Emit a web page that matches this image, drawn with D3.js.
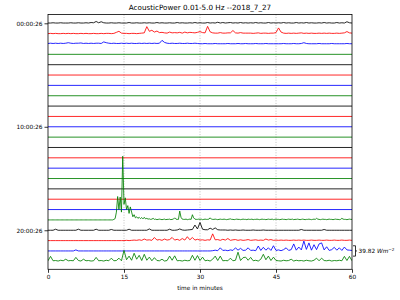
<!DOCTYPE html>
<html><head><meta charset="utf-8">
<script src="https://cdn.jsdelivr.net/npm/d3@7/dist/d3.min.js"></script>
<style>body{margin:0;background:#fff} svg{display:block} text{font-family:"DejaVu Sans",sans-serif}</style>
</head><body><svg id="c" width="400" height="300"></svg>
<script>
// ---------------- data ----------------
const title = "AcousticPower 0.01-5.0 Hz --2018_7_27";
const xLabel = "time in minutes";
const rowColors = ["#000000", "#ff0000", "#0000ff", "#008000"];
const rowTickRows = [0, 10, 20];
const rowTickLabels = ["00:00:26", "10:00:26", "20:00:26"];
const xTicks = [0, 15, 30, 45, 60];
const rowUnit = 39.82;           // W m^-2 per row spacing
const nRows = 24;

// values in W m^-2, step 0.5 min
const row00 = [1,1,2,1,1,2,1,1,1,2, 1,1,2,1,1,2,1,3,2,7, 2,6,2,1,1,2,1,1,2,1, 1,1,3,1,1,2,1,1,2,1,
  2,1,1,3,1,2,1,1,2,1, 1,3,1,2,1,1,2,1,3,1, 2,1,1,3,1,2,1,4,1,3, 1,2,3,1,2,1,3,1,2,1,
  2,1,3,1,2,1,1,3,1,2, 1,2,1,3,1,2,1,1,3,1, 2,1,3,1,2,1,1,2,1,3, 1,2,1,1,3,1,2,1,6,2, 1];
const row01 = [0,1,0,1,0,0,1,0,1,0, 1,0,0,1,0,1,0,0,1,0, 0,1,0,1,1,0,1,5,9,2, 1,1,0,1,1,0,1,2,3,27,
  9,13,6,10,4,5,3,2,6,3, 4,3,5,2,6,3,5,4,3,5, 8,4,3,28,7,3,2,2,4,2, 2,3,3,12,3,2,4,2,2,2,
  2,1,2,3,1,2,2,1,2,2, 4,22,6,2,1,2,1,2,1,2, 3,1,2,1,2,1,1,2,1,2, 1,2,1,1,2,1,2,3,8,3, 2];
const row02 = [2,3,2,3,2,3,2,3,5,3, 2,3,3,4,2,3,2,3,2,3, 3,2,8,5,3,2,3,2,2,3, 2,3,2,3,2,2,3,2,3,2,
  3,2,3,2,3,14,6,3,2,3, 2,2,3,2,2,3,2,2,3,2, 1,1,2,1,1,1,2,1,1,1, 1,2,1,1,1,2,1,1,2,1,
  1,1,2,1,1,1,2,1,1,1, 1,1,1,2,1,1,1,2,1,1, 2,5,2,1,1,1,1,2,1,1, 1,1,2,1,1,1,1,1,2,1, 1];
// values in W m^-2, step 0.25 min
const row19 = [0,0,0,0,0,0,0,0,0,0,0,0,0,0,0,0,0,0,0,0, 0,0,0,0,0,0,0,0,0,0,0,0,0,0,0,0,0,0,0,0,
  0,0,0,0,0,0,0,0,0,0,0,0,2,5,30,90,40,88,30,245, 60,85,40,55,25,50,30,12,20,8,12,6,10,5,9,4,10,4,6,3,
  4,2,3,6,2,3,1,2,3,2,1,2,3,1,2,2,3,1,2,3, 8,3,2,2,34,10,3,2,2,3,1,2,3,2,20,8,3,2,2,3,
  2,3,1,2,3,2,2,3,8,3,2,2,3,2,1,2,3,2,2,3, 2,1,2,3,4,2,2,1,2,3,2,2,1,2,3,2,2,1,3,2,
  2,3,1,2,2,3,2,1,2,3,2,2,1,2,3,2,2,3,1,2, 3,2,2,1,2,3,2,2,1,2,3,2,2,3,1,2,2,3,2,1,
  2,3,2,1,2,2,3,2,1,2,3,2,6,3,2,1,2,3,2,2, 1,2,3,2,2,1,2,3,2,2,1,2,6,3,2,2,1,2,3,2, 2];
// step 0.5 min
const row20 = [0,0,0,4,0,0,0,0,0,0, 0,0,4,0,0,0,0,0,0,4, 0,0,0,0,0,3,0,0,0,0, 0,0,4,0,0,0,0,0,0,0,
  5,0,0,0,0,0,0,0,4,0, 0,1,5,1,0,1,2,3,20,5, 30,4,2,2,8,3,9,2,1,1, 1,0,1,0,1,0,0,1,0,0,
  0,1,0,0,0,1,0,0,0,0, 0,0,0,0,0,0,0,0,0,0, 3,0,0,0,0,0,0,0,0,3, 0,0,0,0,0,0,0,0,0,0, 0];
const row21 = [0,0,0,0,0,0,0,0,0,0, 0,0,0,0,0,0,0,0,0,0, 0,0,0,0,0,0,0,0,0,0, 0,1,0,1,2,1,3,1,6,2,
  3,1,12,2,4,1,6,2,4,12, 2,5,1,8,2,15,3,12,2,5, 2,3,1,3,2,26,3,4,1,5, 2,8,1,3,4,1,3,1,2,4,
  1,2,3,1,2,1,6,2,4,1, 2,1,2,1,2,1,1,2,1,2, 1,2,1,1,2,1,1,2,1,1, 2,1,1,2,1,1,2,1,1,2, 1];
const row22 = [0,0,0,0,0,0,0,0,0,0, 0,4,0,0,0,0,0,0,0,0, 0,0,0,0,0,0,0,0,0,0, 0,0,0,0,0,0,0,0,0,0,
  0,0,0,0,0,0,0,0,0,0, 0,0,0,0,0,0,0,0,0,0, 0,0,0,0,0,1,3,1,12,2, 3,1,4,2,12,3,10,2,3,12,
  2,3,1,19,2,14,3,12,2,20, 2,4,1,5,12,2,5,27,3,15, 4,38,6,31,3,24,5,27,31,4, 16,2,5,14,3,12,2,15,4,3, 2];
const row23 = [2,19,2,3,1,4,2,8,2,3, 2,15,3,1,8,2,3,1,2,15, 2,3,1,4,2,12,2,3,12,2, 42,6,20,4,31,8,23,3,27,4,
  16,2,14,3,2,8,1,3,20,4, 21,2,3,1,4,2,3,23,4,22, 3,16,2,4,1,8,20,3,20,2, 3,2,12,2,4,35,3,14,16,4,
  15,2,4,1,8,27,6,20,3,16, 3,2,1,4,2,3,8,1,4,2, 3,1,4,2,1,4,12,2,12,3, 2,4,1,3,2,4,2,19,3,19, 2];
const flatRow = [0, 0];   // quiet hours: start and end of the hour

const traces = d3.range(nRows).map(r => {
  const m = {0: row00, 1: row01, 2: row02, 19: row19, 20: row20, 21: row21, 22: row22, 23: row23};
  const values = m[r] || flatRow;
  return {row: r, values, step: 60 / (values.length - 1)};
});

// ---------------- layout ----------------
const L = 48, R = 352, T = 14.5, B = 269.3;
const svg = d3.select("#c");
const x = d3.scaleLinear().domain([0, 60]).range([L, R]);
const rowY = d3.scaleLinear().domain([0, nRows - 1]).range([23.3, 261.3]);
const v = d3.scaleLinear().domain([0, rowUnit]).range([0, rowY(1) - rowY(0)]);

// grid
svg.append("g").selectAll("line").data(xTicks.slice(1, -1)).join("line")
  .attr("x1", d => x(d)).attr("x2", d => x(d)).attr("y1", T).attr("y2", B)
  .attr("stroke", "#b0b0b0").attr("stroke-width", 0.8).attr("stroke-dasharray", "1,1.6");

// traces
svg.append("defs").append("clipPath").attr("id", "clip")
  .append("rect").attr("x", L).attr("y", T).attr("width", R - L).attr("height", B - T);
const line = d3.line();
svg.append("g").attr("clip-path", "url(#clip)").selectAll("path").data(traces).join("path")
  .attr("d", t => line(t.values.map((d, i) => [x(i * t.step), rowY(t.row) - v(d)])))
  .attr("fill", "none").attr("stroke", t => rowColors[t.row % 4]).attr("stroke-width", 0.85)
  .attr("stroke-linejoin", "round");

// frame
svg.append("rect").attr("x", L).attr("y", T).attr("width", R - L).attr("height", B - T)
  .attr("fill", "none").attr("stroke", "#000").attr("stroke-width", 0.8);

// axes
const fs = "5.8px";
const xa = svg.append("g").attr("transform", `translate(0,${B})`)
  .call(d3.axisBottom(x).tickValues(xTicks).tickFormat(d3.format("d")).tickSize(3.5).tickPadding(2));
const ya = svg.append("g").attr("transform", `translate(${L},0)`)
  .call(d3.axisLeft(rowY).tickValues(rowTickRows).tickFormat((d, i) => rowTickLabels[i]).tickSize(3.5).tickPadding(2));
[xa, ya].forEach(a => {
  a.select(".domain").remove();
  a.selectAll("line").attr("stroke", "#000").attr("stroke-width", 0.8);
  a.selectAll("text").attr("font-family", "DejaVu Sans").attr("font-size", fs).attr("fill", "#000");
});

// title and label
svg.append("text").attr("x", 200).attr("y", 10).attr("text-anchor", "middle")
  .attr("font-size", "7.2px").text(title);
svg.append("text").attr("x", 200).attr("y", 289.5).attr("text-anchor", "middle")
  .attr("font-size", fs).text(xLabel);

// scale bar for one row spacing
const yb0 = rowY(22) - v(rowUnit / 2), yb1 = rowY(22) + v(rowUnit / 2);
svg.append("path")
  .attr("d", `M${R + 1},${yb0} H${R + 3.5} V${yb1} H${R + 1} M${R + 3.5},${(yb0 + yb1) / 2} H${R + 5}`)
  .attr("fill", "none").attr("stroke", "#000").attr("stroke-width", 0.8);
const sb = svg.append("text").attr("x", R + 6.5).attr("y", rowY(22) + 2).attr("font-size", fs);
sb.append("tspan").text(rowUnit.toFixed(2) + " ");
sb.append("tspan").attr("font-style", "italic").text("Wm");
sb.append("tspan").attr("dy", -2.2).attr("font-size", "4.2px").text("\u22122");
</script></body></html>
